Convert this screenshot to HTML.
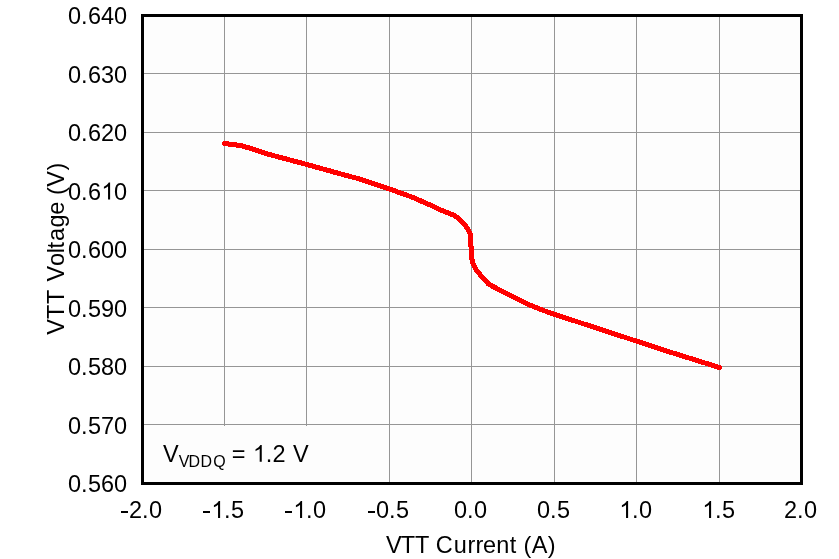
<!DOCTYPE html>
<html>
<head>
<meta charset="utf-8">
<title>VTT Voltage vs VTT Current</title>
<style>
html,body{margin:0;padding:0;background:#fff;}
body{width:839px;height:559px;overflow:hidden;}
svg{display:block;will-change:transform;}
text{font-family:"Liberation Sans",sans-serif;fill:#000;font-kerning:none;font-variant-ligatures:none;}
</style>
</head>
<body>
<svg width="839" height="559" viewBox="0 0 839 559">
<rect x="0" y="0" width="839" height="559" fill="#ffffff"/>
<!-- plot area -->
<rect x="142" y="15" width="660" height="469" fill="#fdfdfd"/>
<!-- gridlines -->
<g fill="#969696" shape-rendering="crispEdges">
<rect x="224" y="16" width="1" height="467"/>
<rect x="306" y="16" width="1" height="467"/>
<rect x="389" y="16" width="1" height="467"/>
<rect x="471" y="16" width="1" height="467"/>
<rect x="554" y="16" width="1" height="467"/>
<rect x="636" y="16" width="1" height="467"/>
<rect x="719" y="16" width="1" height="467"/>
<rect x="143" y="73" width="658" height="1"/>
<rect x="143" y="132" width="658" height="1"/>
<rect x="143" y="190" width="658" height="1"/>
<rect x="143" y="249" width="658" height="1"/>
<rect x="143" y="307" width="658" height="1"/>
<rect x="143" y="366" width="658" height="1"/>
<rect x="143" y="424" width="658" height="1"/>
</g>
<!-- annotation box -->
<rect x="150" y="426" width="170" height="56" fill="#fdfdfd"/>
<!-- plot border -->
<rect x="142.5" y="15.5" width="659" height="468" fill="none" stroke="#000" stroke-width="3" shape-rendering="crispEdges"/>
<!-- data curve -->
<polyline fill="none" stroke="#ff0000" stroke-width="5" stroke-linecap="round" stroke-linejoin="round" shape-rendering="crispEdges"
points="224.5,143.5 228.4,144 236.5,145 242.4,146 252.6,149 267.2,153.9 306.5,164.4 339.1,173.5 358.1,178.6 377.2,184.8 389.5,189 411.5,196.9 429.1,204.5 438.6,209.1 448.1,212.9 454,215.4 458.2,218 463,222.6 467.2,227.9 470.4,234.4 470.5,246 471.5,247.2 471.5,257.5 472.7,262.5 477,271.2 488.7,284.2 508.6,294.7 529.6,304.9 541,309.6 554.5,314.3 584.4,324.1 603.5,330.3 630,339 666.3,350.9 719.4,367.5"/>
<!-- tick labels -->
<text font-size="23.5" transform="matrix(1 0 0 1.04 0 24)" x="68 81 88 101 114" y="0">0.640</text>
<text font-size="23.5" transform="matrix(1 0 0 1.04 0 82.5)" x="68 81 88 101 114" y="0">0.630</text>
<text font-size="23.5" transform="matrix(1 0 0 1.04 0 141)" x="68 81 88 101 114" y="0">0.620</text>
<text font-size="23.5" transform="matrix(1 0 0 1.04 0 199.5)" x="68 81 88 114" y="0">0.60</text>
<path transform="translate(101.35,199.5) scale(0.011475,-0.011475)" d="M763 0H583V1147Q518 1085 412.5 1023T223 930V1104Q374 1175 487 1276T647 1472H763Z"/>
<text font-size="23.5" transform="matrix(1 0 0 1.04 0 258)" x="68 81 88 101 114" y="0">0.600</text>
<text font-size="23.5" transform="matrix(1 0 0 1.04 0 316.5)" x="68 81 88 101 114" y="0">0.590</text>
<text font-size="23.5" transform="matrix(1 0 0 1.04 0 375)" x="68 81 88 101 114" y="0">0.580</text>
<text font-size="23.5" transform="matrix(1 0 0 1.04 0 433.5)" x="68 81 88 101 114" y="0">0.570</text>
<text font-size="23.5" transform="matrix(1 0 0 1.04 0 492)" x="68 81 88 101 114" y="0">0.560</text>
<text font-size="23.5" transform="matrix(1 0 0 1.04 0 518)" x="129 142 149" y="0">2.0</text>
<rect x="121" y="511" width="7" height="2" shape-rendering="crispEdges"/>
<text font-size="23.5" transform="matrix(1 0 0 1.04 0 518)" x="224 231" y="0">.5</text>
<rect x="203" y="511" width="7" height="2" shape-rendering="crispEdges"/>
<path transform="translate(211.35,518) scale(0.011475,-0.011475)" d="M763 0H583V1147Q518 1085 412.5 1023T223 930V1104Q374 1175 487 1276T647 1472H763Z"/>
<text font-size="23.5" transform="matrix(1 0 0 1.04 0 518)" x="306 313" y="0">.0</text>
<rect x="285" y="511" width="7" height="2" shape-rendering="crispEdges"/>
<path transform="translate(293.35,518) scale(0.011475,-0.011475)" d="M763 0H583V1147Q518 1085 412.5 1023T223 930V1104Q374 1175 487 1276T647 1472H763Z"/>
<text font-size="23.5" transform="matrix(1 0 0 1.04 0 518)" x="376 389 396" y="0">0.5</text>
<rect x="368" y="511" width="7" height="2" shape-rendering="crispEdges"/>
<text font-size="23.5" transform="matrix(1 0 0 1.04 0 518)" x="454 467 474" y="0">0.0</text>
<text font-size="23.5" transform="matrix(1 0 0 1.04 0 518)" x="537 550 557" y="0">0.5</text>
<text font-size="23.5" transform="matrix(1 0 0 1.04 0 518)" x="632 639" y="0">.0</text>
<path transform="translate(619.35,518) scale(0.011475,-0.011475)" d="M763 0H583V1147Q518 1085 412.5 1023T223 930V1104Q374 1175 487 1276T647 1472H763Z"/>
<text font-size="23.5" transform="matrix(1 0 0 1.04 0 518)" x="715 722" y="0">.5</text>
<path transform="translate(702.35,518) scale(0.011475,-0.011475)" d="M763 0H583V1147Q518 1085 412.5 1023T223 930V1104Q374 1175 487 1276T647 1472H763Z"/>
<text font-size="23.5" transform="matrix(1 0 0 1.04 0 518)" x="784 797 804" y="0">2.0</text>
<!-- axis titles -->
<text font-size="23.5" transform="matrix(1 0 0 1.04 0 552.7)" x="386 400.83 414.93 435.71 453.77 467.44 475.44 483 496.34 509.64 523.54 531.85 547.83" y="0">VTTCurrent(A)</text>
<text font-size="23.5" transform="matrix(0 -1 1.04 0 63.8 0)" x="-334.86 -319.07 -304.03 -281.5 -265.89 -253.18 -248.46 -240.9 -227.59 -214.7 -195.06 -186.7 -170.52" y="0">VTTVoltage(V)</text>
<!-- annotation -->
<text font-size="23.5" transform="matrix(1 0 0 1.04 0 461.8)" x="163 231.65 265.75 272.62 293" y="0">V=.2V</text>
<text font-size="16" transform="matrix(1 0 0 1.04 0 466.6)" x="178.73 188.59 200.59 213.24" y="0">VDDQ</text>
<path transform="translate(253,461.8) scale(0.011475,-0.011475)" d="M763 0H583V1147Q518 1085 412.5 1023T223 930V1104Q374 1175 487 1276T647 1472H763Z"/>
</svg>
</body>
</html>
